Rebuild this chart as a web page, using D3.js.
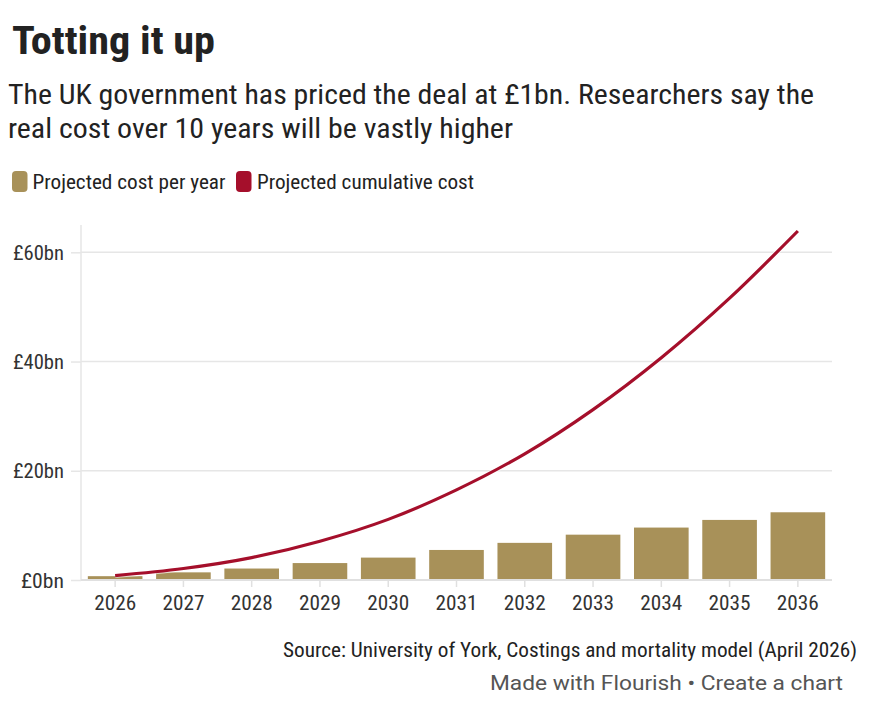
<!DOCTYPE html>
<html>
<head>
<meta charset="utf-8">
<script src="https://cdn.jsdelivr.net/npm/d3@7"></script>
<style>
  html, body { margin: 0; padding: 0; background: #fff; }
  svg { display: block; }
  text { font-family: "Roboto Condensed", Roboto, "Liberation Sans Narrow", sans-serif; }
</style>
</head>
<body>
<svg id="chart" width="870" height="717"></svg>
<script>
// ---- data ----
const years = ["2026","2027","2028","2029","2030","2031","2032","2033","2034","2035","2036"];
const costPerYear = [0.7, 1.4, 2.1, 3.1, 4.1, 5.5, 6.8, 8.3, 9.6, 11.0, 12.4];
const cumulativeCost = [0.8, 2.1, 4.1, 7.1, 11.1, 16.5, 23.1, 31.2, 40.7, 51.6, 63.9];
const yTicks = [0, 20, 40, 60];
const seriesNames = ["Projected cost per year", "Projected cumulative cost"];

const title = "Totting it up";
const subtitleLines = ["The UK government has priced the deal at £1bn. Researchers say the",
                       "real cost over 10 years will be vastly higher"];
const sourceText = "Source: University of York, Costings and mortality model (April 2026)";
const creditText = "Made with Flourish • Create a chart";

const barColor = "#a89159";
const lineColor = "#a50f2b";

const svg = d3.select("#chart");

function fit(sel, w) {
  sel.attr("textLength", w).attr("lengthAdjust", "spacingAndGlyphs");
  return sel;
}

// ---- header ----
fit(svg.append("text").attr("x", 12).attr("y", 54)
  .attr("font-size", 39).attr("font-weight", 700).attr("fill", "#222")
  .text(title), 203);

const subW = [806, 505];
subtitleLines.forEach((s, i) => {
  fit(svg.append("text").attr("x", 8).attr("y", 104 + i * 34)
    .attr("font-size", 28).attr("fill", "#222").text(s), subW[i]);
});

// legend
const legend = [
  {name: seriesNames[0], color: barColor, sx: 12, tx: 32.5, tw: 193},
  {name: seriesNames[1], color: lineColor, sx: 236, tx: 257, tw: 217}
];
legend.forEach(l => {
  svg.append("rect").attr("x", l.sx).attr("y", 171).attr("width", 15.5).attr("height", 21)
    .attr("rx", 4).attr("fill", l.color);
  fit(svg.append("text").attr("x", l.tx).attr("y", 188.5)
    .attr("font-size", 20).attr("fill", "#222").text(l.name), l.tw);
});

// ---- chart ----
const x0 = 81, x1 = 832, yTop = 225, yBase = 580;
const x = d3.scaleBand().domain(years).range([x0, x1]).paddingInner(0.2).paddingOuter(0.1);
const y = d3.scaleLinear().domain([0, 60]).range([yBase, 252.3]);

// gridlines
svg.append("g").selectAll("line").data(yTicks.filter(t => t > 0)).join("line")
  .attr("x1", x0).attr("x2", x1).attr("y1", d => y(d)).attr("y2", d => y(d))
  .attr("stroke", "#e6e6e6").attr("stroke-width", 1.5);

// y axis
const yAxis = svg.append("g").attr("transform", `translate(${x0},0)`)
  .call(d3.axisLeft(y).tickValues(yTicks).tickSize(10).tickPadding(7).tickFormat(d => "£" + d + "bn"));
yAxis.select(".domain").remove();
yAxis.selectAll(".tick line").attr("stroke", "#e6e6e6").attr("stroke-width", 1.5);
yAxis.selectAll(".tick text").attr("font-size", 21).attr("fill", "#333")
  .attr("font-family", '"Roboto Condensed", Roboto, sans-serif')
  .attr("dy", "0.34em")
  .each(function(d) { fit(d3.select(this), d === 0 ? 43 : 51); });

// vertical axis line
svg.append("line").attr("x1", x0).attr("x2", x0).attr("y1", yTop).attr("y2", yBase)
  .attr("stroke", "#e6e6e6").attr("stroke-width", 1.5);

// bars
svg.append("g").selectAll("rect").data(years).join("rect")
  .attr("x", d => x(d)).attr("width", x.bandwidth())
  .attr("y", (d, i) => y(costPerYear[i]))
  .attr("height", (d, i) => yBase - y(costPerYear[i]))
  .attr("fill", barColor);

// x axis
const xPoint = d => x(d) + x.bandwidth() / 2;
const xAxis = svg.append("g").attr("transform", `translate(0,${yBase})`)
  .call(d3.axisBottom(x).tickSize(7).tickPadding(8));
xAxis.select(".domain").attr("stroke", "#e0e0e0").attr("stroke-width", 2)
  .attr("d", `M${x0},0H${x1}`);
xAxis.selectAll(".tick line").attr("stroke", "#e0e0e0").attr("stroke-width", 1.5);
xAxis.selectAll(".tick text").attr("font-size", 21).attr("fill", "#333")
  .attr("font-family", '"Roboto Condensed", Roboto, sans-serif')
  .attr("dy", "0.71em")
  .each(function() { fit(d3.select(this), 42); });

// line
const line = d3.line().x((d, i) => xPoint(years[i])).y(d => y(d)).curve(d3.curveCatmullRom);
svg.append("path").datum(cumulativeCost).attr("d", line)
  .attr("fill", "none").attr("stroke", "#fff").attr("stroke-width", 5).attr("opacity", 0.6);
svg.append("path").datum(cumulativeCost).attr("d", line)
  .attr("fill", "none").attr("stroke", lineColor).attr("stroke-width", 3.2)
  .attr("stroke-linecap", "butt");

// ---- footer ----
fit(svg.append("text").attr("x", 857).attr("y", 657).attr("text-anchor", "end")
  .attr("font-size", 20).attr("fill", "#222").text(sourceText), 574);
fit(svg.append("text").attr("x", 843).attr("y", 690).attr("text-anchor", "end")
  .attr("font-size", 21).attr("fill", "#555")
  .style("font-family", "Roboto, sans-serif").text(creditText), 353);
</script>
</body>
</html>
